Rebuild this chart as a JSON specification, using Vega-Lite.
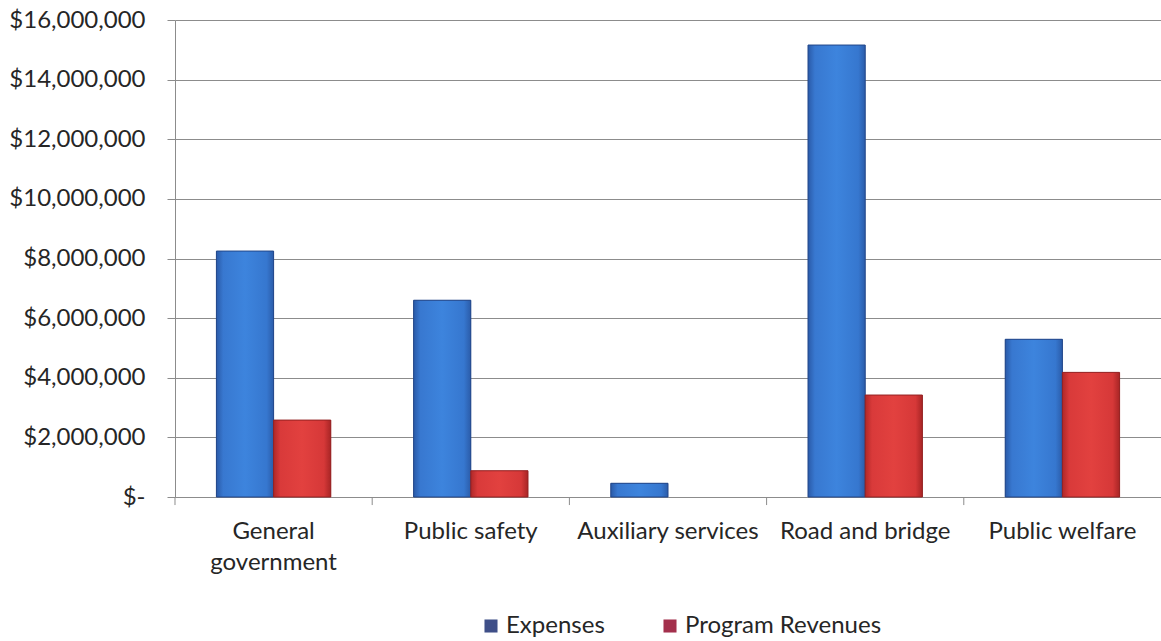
{
  "$schema": "https://vega.github.io/schema/vega-lite/v6.json",
  "width": 986,
  "height": 477,
  "autosize": {"type": "none"},
  "padding": {"left": 175, "top": 20, "right": 0, "bottom": 144},
  "background": "white",
  "config": {
    "font": "Lato",
    "view": {"stroke": null},
    "axis": {"labelFont": "Lato", "labelColor": "#262626", "labelFontSize": 24}
  },
  "data": {
    "values": [
      {"category": "General government", "series": "Expenses", "value": 8250000},
      {"category": "General government", "series": "Program Revenues", "value": 2580000},
      {"category": "Public safety", "series": "Expenses", "value": 6600000},
      {"category": "Public safety", "series": "Program Revenues", "value": 880000},
      {"category": "Auxiliary services", "series": "Expenses", "value": 460000},
      {"category": "Auxiliary services", "series": "Program Revenues", "value": null},
      {"category": "Road and bridge", "series": "Expenses", "value": 15160000},
      {"category": "Road and bridge", "series": "Program Revenues", "value": 3420000},
      {"category": "Public welfare", "series": "Expenses", "value": 5290000},
      {"category": "Public welfare", "series": "Program Revenues", "value": 4180000}
    ]
  },
  "encoding": {
    "x": {
      "field": "category",
      "type": "nominal",
      "sort": ["General government", "Public safety", "Auxiliary services", "Road and bridge", "Public welfare"],
      "scale": {"paddingInner": 0.42, "paddingOuter": 0.21},
      "axis": {
        "title": null,
        "labelAngle": 0,
        "ticks": false,
        "domainColor": "#8c8c8c",
        "labelPadding": 22,
        "labelLineHeight": 31,
        "labelBaseline": "top",
        "labelLimit": 400,
        "labelExpr": "datum.label == 'General government' ? ['General', 'government'] : datum.label"
      }
    },
    "y": {
      "field": "value",
      "type": "quantitative",
      "scale": {"domain": [0, 16000000], "nice": false},
      "axis": {
        "title": null,
        "values": [0, 2000000, 4000000, 6000000, 8000000, 10000000, 12000000, 14000000, 16000000],
        "labelExpr": "datum.value == 0 ? '$-' : '$' + format(datum.value, ',')",
        "labelPadding": 22,
        "tickSize": 8,
        "tickColor": "#8c8c8c",
        "domainColor": "#8c8c8c",
        "gridColor": "#8c8c8c",
        "gridOpacity": 1
      }
    }
  },
  "layer": [
    {
      "mark": {"type": "bar"},
      "encoding": {
        "xOffset": {
          "field": "series",
          "sort": ["Expenses", "Program Revenues"],
          "scale": {"paddingInner": 0, "paddingOuter": 0}
        },
        "color": {
          "field": "series",
          "type": "nominal",
          "scale": {"domain": ["Expenses", "Program Revenues"], "range": ["#3f4f88", "#a3304c"]},
          "legend": {
            "title": null,
            "orient": "none",
            "direction": "horizontal",
            "legendX": 304,
            "legendY": 594,
            "symbolType": "square",
            "symbolSize": 170,
            "symbolStrokeWidth": 0,
            "labelFontSize": 24,
            "labelFont": "Lato",
            "labelColor": "#262626",
            "labelOffset": 3,
            "labelLimit": 400,
            "columnPadding": 53
          }
        }
      }
    },
    {
      "mark": {"type": "bar", "strokeWidth": 1},
      "encoding": {
        "xOffset": {
          "field": "series",
          "sort": ["Expenses", "Program Revenues"],
          "scale": {"paddingInner": 0, "paddingOuter": 0}
        },
        "fill": {
          "condition": {
            "test": "datum.series == 'Expenses'",
            "value": {
              "gradient": "linear", "x1": 0, "y1": 0, "x2": 1, "y2": 0,
              "stops": [
                {"offset": 0, "color": "#2a5aa8"},
                {"offset": 0.12, "color": "#3878d0"},
                {"offset": 0.5, "color": "#3d84dd"},
                {"offset": 0.88, "color": "#3677cf"},
                {"offset": 1, "color": "#2b5ca9"}
              ]
            }
          },
          "value": {
            "gradient": "linear", "x1": 0, "y1": 0, "x2": 1, "y2": 0,
            "stops": [
              {"offset": 0, "color": "#b02828"},
              {"offset": 0.12, "color": "#d93a3a"},
              {"offset": 0.5, "color": "#e2413f"},
              {"offset": 0.88, "color": "#d63838"},
              {"offset": 1, "color": "#a82525"}
            ]
          }
        },
        "stroke": {
          "condition": {"test": "datum.series == 'Expenses'", "value": "#22478a"},
          "value": "#952222"
        }
      }
    },
    {
      "transform": [{"filter": "datum.series == 'Expenses'"}],
      "mark": {"type": "rule", "color": "#8c8c8c", "strokeWidth": 1},
      "encoding": {
        "x": {
          "field": "category",
          "type": "nominal",
          "sort": ["General government", "Public safety", "Auxiliary services", "Road and bridge", "Public welfare"],
          "bandPosition": -0.3621
        },
        "y": {"datum": 0},
        "y2": {"datum": -270000}
      }
    }
  ]
}
